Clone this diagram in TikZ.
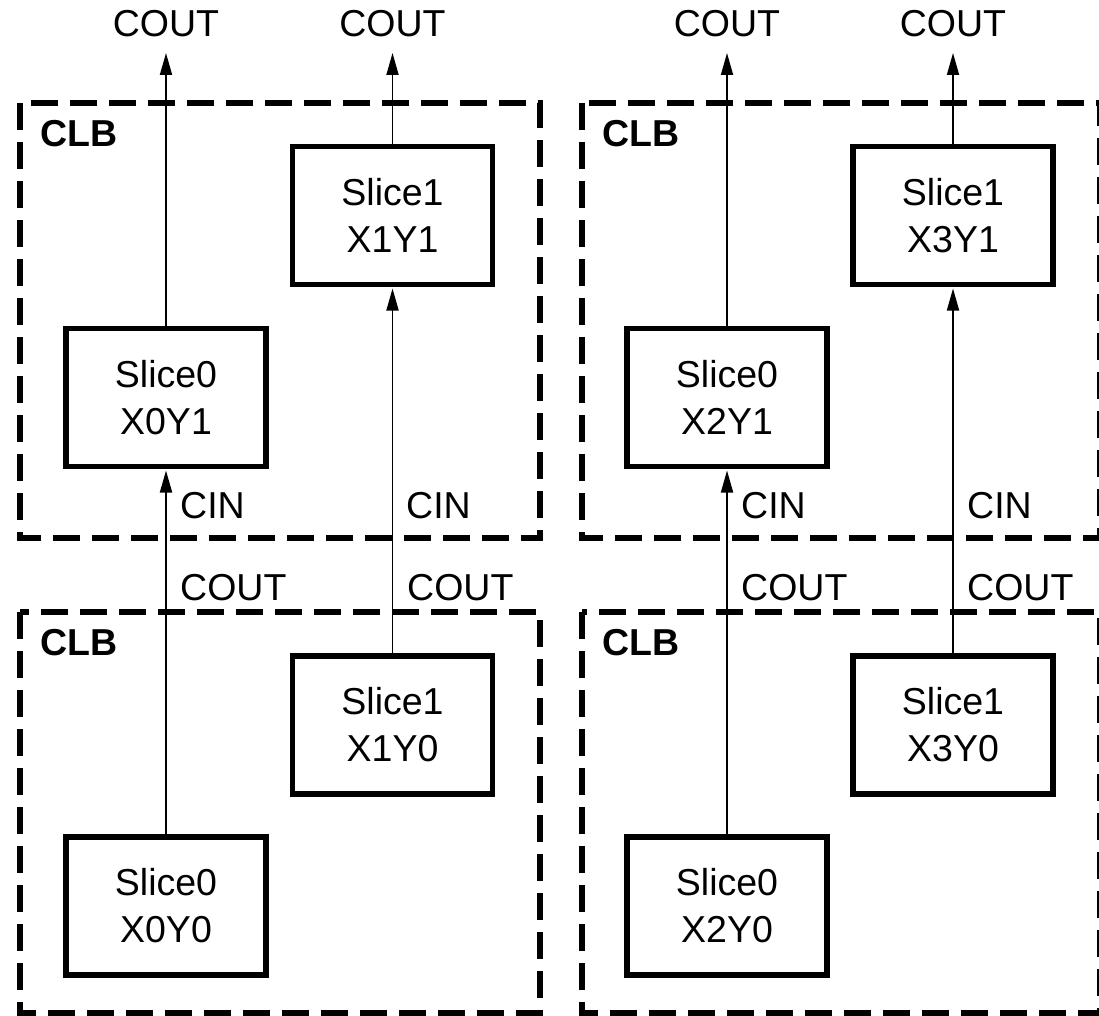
\documentclass[tikz,border=0pt]{standalone}
\usepackage{fontspec}
\setmainfont{Liberation Sans}
\usetikzlibrary{arrows.meta}
\begin{document}
\begin{tikzpicture}[x=1pt,y=-1pt,
  slicebox/.style={draw, line width=5.5pt, fill=white, minimum width=200pt, minimum height=138pt,
    inner sep=0pt, outer sep=0pt, align=center, font=\fontsize{37.5}{47}\selectfont},
  clbbox/.style={draw, line width=6pt, dash pattern=on 27pt off 12pt},
  lbl/.style={font=\fontsize{37.5}{45}\selectfont, inner sep=0pt},
  clblbl/.style={font=\fontsize{37.5}{45}\selectfont\bfseries, inner sep=0pt, anchor=base west},
  wire/.style={line width=1.8pt, -{Triangle[length=22pt,width=12pt]}, shorten >=4pt}]
\useasboundingbox (0,0) rectangle (1099,1016);
% CLB containers
\draw[clbbox] (20,103) rectangle (540,538);
\draw[clbbox] (20,612) rectangle (540,1013);
\draw[clbbox] (582,103) rectangle (1100,538);
\draw[clbbox] (582,612) rectangle (1100,1013);
\node[clblbl] (clbA) at (40,147) {CLB};
\node[clblbl] (clbB) at (40,655) {CLB};
\node[clblbl] (clbC) at (602,147) {CLB};
\node[clblbl] (clbD) at (602,655) {CLB};
% slices
\node[slicebox] (s01) at (166,397.5) {Slice0\\X0Y1};
\node[slicebox] (s11) at (392.5,215.5) {Slice1\\X1Y1};
\node[slicebox] (s10) at (392.5,725) {Slice1\\X1Y0};
\node[slicebox] (s00) at (166,906) {Slice0\\X0Y0};
\node[slicebox] (s21) at (727,397.5) {Slice0\\X2Y1};
\node[slicebox] (s31) at (953,215.5) {Slice1\\X3Y1};
\node[slicebox] (s30) at (953,725) {Slice1\\X3Y0};
\node[slicebox] (s20) at (727,906) {Slice0\\X2Y0};
% top outputs
\coordinate (t0) at (166,53);
\coordinate (t1) at (392.5,53);
\coordinate (t2) at (727,53);
\coordinate (t3) at (953,53);
\draw[wire, shorten >=0pt] (s01.north) -- (t0);
\draw[wire, shorten >=0pt] (s11.north) -- (t1);
\draw[wire, shorten >=0pt] (s21.north) -- (t2);
\draw[wire, shorten >=0pt] (s31.north) -- (t3);
\node[lbl, anchor=base] (c0) at (166,37) {COUT};
\node[lbl, anchor=base] (c1) at (392.5,37) {COUT};
\node[lbl, anchor=base] (c2) at (727,37) {COUT};
\node[lbl, anchor=base] (c3) at (953,37) {COUT};
% carry chains
\draw[wire] (s00.north) -- (s01.south);
\draw[wire] (s10.north) -- (s11.south);
\draw[wire] (s20.north) -- (s21.south);
\draw[wire] (s30.north) -- (s31.south);
\node[lbl, anchor=base west] (cin0) at (180,518) {CIN};
\node[lbl, anchor=base west] (cin1) at (406,518) {CIN};
\node[lbl, anchor=base west] (cin2) at (741,518) {CIN};
\node[lbl, anchor=base west] (cin3) at (967,518) {CIN};
\node[lbl, anchor=base west] (co0) at (180,600) {COUT};
\node[lbl, anchor=base west] (co1) at (407,600) {COUT};
\node[lbl, anchor=base west] (co2) at (741,600) {COUT};
\node[lbl, anchor=base west] (co3) at (967,600) {COUT};
\end{tikzpicture}
\end{document}
